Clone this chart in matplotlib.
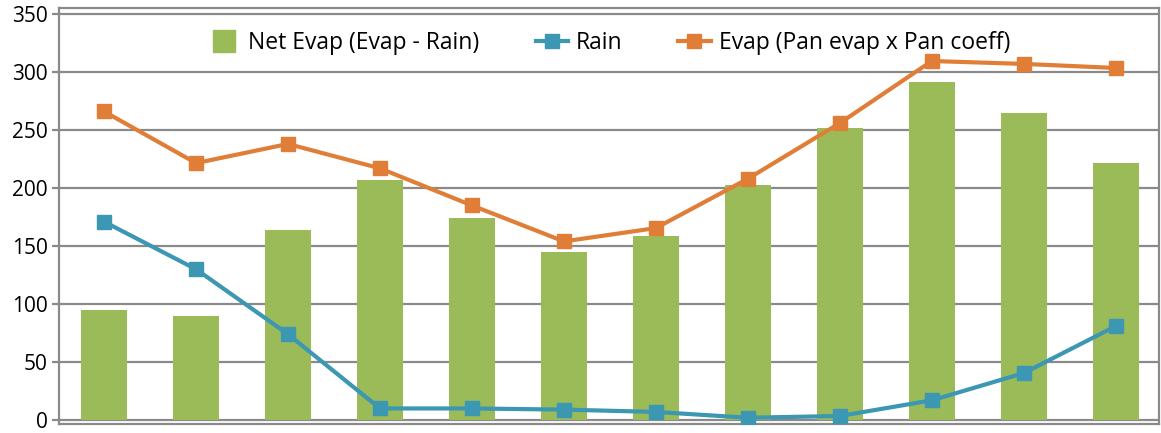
import matplotlib
matplotlib.use("Agg")
from matplotlib import pyplot as plt
from matplotlib.lines import Line2D
import numpy as np

# monthly values
net_evap = [95, 90, 164, 207, 174, 145, 159, 203, 252, 291, 265, 222]
rain = [171, 130, 74, 10, 10, 9, 7, 2, 3.5, 17, 40.5, 81]
evap = [266, 221.5, 238, 217, 185, 154, 165.5, 208, 256, 309.5, 307, 303.5]
yticks = [0, 50, 100, 150, 200, 250, 300, 350]

plt.rcParams["font.family"] = ["Open Sans", "DejaVu Sans"]

green = "#9BBB59"
blue = "#3B97B2"
orange = "#E07E37"
grey = "#8A8A8A"

fig = plt.figure(figsize=(11.61, 4.33), dpi=100)
ax = fig.add_axes([59 / 1161, 9 / 433, 1100 / 1161, 416 / 433])

x = np.arange(len(net_evap))
ax.bar(x, net_evap, width=0.5, color=green, zorder=2)
rain_line, = ax.plot(x, rain, color=blue, lw=3, marker="s", ms=10, zorder=3)
evap_line, = ax.plot(x, evap, color=orange, lw=3, marker="s", ms=10, zorder=3)

ax.set_xlim(-0.49, 11.47)
ax.set_ylim(-3.4, 355.2)
ax.set_yticks(yticks)
ax.set_xticks([])
ax.yaxis.grid(True, color=grey, lw=1.6, zorder=0)
ax.set_axisbelow(True)
for s in ax.spines.values():
    s.set_color(grey)
    s.set_linewidth(1.6)
ax.tick_params(axis="y", length=5, width=1.6, color=grey, labelsize=15, pad=3)

# square swatch for the bars, like the original legend
bar_handle = Line2D([], [], ls="none", marker="s", ms=16.5, color=green)
ax.legend([bar_handle, rain_line, evap_line],
          ["Net Evap (Evap - Rain)", "Rain", "Evap (Pan evap x Pan coeff)"],
          loc="upper center", bbox_to_anchor=(0.5, 1.0), ncol=3, frameon=False,
          fontsize=16.5, handlelength=1.4, columnspacing=2.45, handletextpad=0.35,
          borderaxespad=0.6)

plt.savefig("out.png", dpi=100)
